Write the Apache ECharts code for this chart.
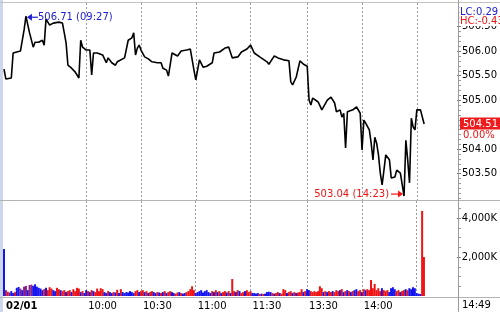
<!DOCTYPE html>
<html><head><meta charset="utf-8">
<script src="https://cdn.jsdelivr.net/npm/echarts@6/dist/echarts.min.js"></script>
<style>html,body{margin:0;padding:0;background:#fff}#c{width:500px;height:312px}</style>
</head><body><div id="c"></div>
<script>
// ---- data ----
const priceTimes = [
 '09:15','09:16','09:17','09:19','09:20','09:21','09:24','09:25','09:26','09:27',
 '09:28','09:29','09:30','09:31','09:32','09:34','09:36','09:37','09:38','09:39',
 '09:40','09:42','09:43','09:45','09:47','09:48','09:49','09:50','09:52','09:54',
 '09:55','09:56','09:57','09:58','09:59','10:00','10:02','10:03','10:04','10:06',
 '10:07','10:09','10:11','10:12','10:14','10:16','10:17','10:18','10:21','10:23',
 '10:25','10:26','10:27','10:28','10:29','10:30','10:32','10:34','10:36','10:37',
 '10:39','10:41','10:42','10:44','10:45','10:47','10:48','10:50','10:52','10:55',
 '10:57','10:58','10:59','11:00','11:01','11:02','11:03','11:04','11:06','11:09',
 '11:10','11:13','11:16','11:18','11:20','11:23','11:25','11:28','11:29','11:30',
 '13:01','13:04','13:05','13:08','13:09','13:12','13:14','13:17','13:20','13:21',
 '13:22','13:24','13:26','13:27','13:28','13:30','13:31','13:32','13:33','13:36',
 '13:38','13:41','13:43','13:45','13:46','13:48','13:49','13:50','13:51','13:52',
 '13:55','13:57','13:59','14:00','14:01','14:02','14:04','14:05','14:06','14:07',
 '14:08','14:09','14:10','14:11','14:12','14:13','14:15','14:16','14:18','14:19',
 '14:21','14:23','14:24','14:25','14:26','14:27','14:28','14:29','14:30','14:31',
 '14:32','14:34'
];
const priceValues = [
 505.63,505.43,505.43,505.45,505.96,505.98,506.00,506.02,506.43,506.71,
 506.67,506.37,506.33,506.08,506.18,506.18,506.22,506.12,506.65,506.63,
 506.53,506.57,506.53,506.59,506.57,506.37,506.16,505.71,505.65,505.57,
 505.51,505.45,506.22,506.08,506.06,506.02,506.02,505.51,505.96,505.96,
 505.96,505.92,505.76,505.86,505.76,505.71,505.78,505.78,505.86,506.22,
 506.27,506.37,505.92,506.06,506.12,506.02,505.88,505.84,505.78,505.78,
 505.76,505.76,505.65,505.61,505.49,505.96,505.96,505.90,506.00,506.02,
 506.04,506.02,505.61,505.41,505.37,505.82,505.82,505.67,505.69,505.76,
 505.96,505.98,506.06,506.08,505.86,505.88,505.98,506.04,506.08,506.12,
 505.96,505.88,505.86,505.78,505.73,505.90,505.86,505.82,505.80,505.37,
 505.31,505.47,505.80,505.76,505.73,505.69,505.00,504.90,505.04,504.96,
 504.80,505.00,505.06,504.94,504.76,504.80,504.65,504.73,504.02,504.76,
 504.80,504.86,504.73,503.98,504.59,504.53,504.39,504.12,503.78,504.24,
 504.12,503.88,503.51,503.27,503.57,503.88,503.78,503.41,503.43,503.57,
 503.51,503.04,504.18,503.78,503.31,504.63,504.45,504.39,504.80,504.82,
 504.80,504.51
];
// volume per minute from 09:15 (thousands of shares)
const volumeK = [
 2410,300,220,180,250,150,200,420,460,380,
 300,480,520,300,560,580,520,600,480,420,
 380,300,350,420,300,450,380,300,250,420,
 350,300,250,300,200,250,300,200,350,250,
 420,380,200,250,150,300,250,200,300,250,
 200,380,250,400,350,200,150,250,200,150,
 200,180,320,150,350,200,150,200,180,250,
 200,150,250,300,200,250,300,200,250,150,
 200,250,200,150,200,180,150,200,250,150,
 200,250,200,150,120,180,200,150,120,150,
 200,250,350,500,300,150,200,250,300,180,
 250,300,200,150,250,200,300,200,250,150,
 200,250,180,250,150,870,250,200,300,250,
 150,200,250,300,200,250,150,150,120,150,
 100,120,100,120,200,220,200,150,120,150,
 200,150,120,350,300,150,200,250,150,200,
 150,180,200,350,200,250,350,300,250,200,
 250,200,250,500,400,200,250,200,250,200,
 250,200,300,250,300,350,200,250,300,250,
 200,250,300,350,250,300,200,350,300,350,
 300,820,400,620,300,400,250,400,300,250,
 300,200,400,450,350,250,300,200,250,300,
 350,300,400,350,450,400,150,120,100,4360,2000
];
// u = up tick, d = down tick, n = unchanged
const volumeSide = [
 'u','n','d','n','u','u','d','u','u','n',
 'u','n','n','u','n','n','u','u','u','u',
 'u','u','d','u','d','d','d','u','u','d',
 'd','u','d','d','u','d','d','u','d','d',
 'd','d','u','d','u','u','d','u','d','u',
 'd','d','d','d','d','u','u','d','u','u',
 'd','u','d','u','d','u','u','u','u','u',
 'u','u','d','d','u','d','d','u','d','u',
 'd','d','u','u','d','u','d','u','d','u',
 'd','d','u','u','d','d','u','d','u','u',
 'd','d','d','d','d','u','u','u','u','u',
 'u','u','u','u','d','u','d','u','d','u',
 'd','d','u','d','u','d','d','u','d','u',
 'd','d','u','d','d','d','u','u','u','u',
 'd','u','d','u','u','u','u','d','u','d',
 'd','u','d','d','d','u','d','d','u','d',
 'u','d','d','d','u','d','u','u','d','d',
 'd','d','d','d','d','u','d','u','d','d',
 'u','d','d','d','u','d','u','d','u','d',
 'u','d','u','u','d','d','u','d','u','d',
 'd','d','d','d','d','d','d','u','d','d',
 'd','u','u','u','u','d','d','u','d','d',
 'u','d','u','u','u','u','u','u','u','d','d'
];
const priceTicks = [503.5, 504.0, 505.0, 505.5, 506.0, 506.5];
const volumeTicks = [2000, 4000];
const xLabelTimes = ['09:15','10:00','10:30','11:00','11:30','13:30','14:00'];
const gridTimes = ['10:00','10:30','11:00','11:30','13:30','14:00','14:30'];
const dateLabel = '02/01';
const lastPrice = 504.51, changeText = '0.00%', lcText = 'LC:0.29', hcText = 'HC:-0.43', nowTime = '14:49';

// ---- session minutes (lunch break removed) ----
const cats = [];
function pad(n){ return (n < 10 ? '0' : '') + n; }
function addRange(a, b){ for (let t = a; t <= b; t++) cats.push(pad(Math.floor(t/60)) + ':' + pad(t%60)); }
addRange(9*60+15, 11*60+30);
addRange(13*60, 14*60+52);

const FONT = 'DejaVu Sans';
const BLUE = '#1414f0', RED = '#f01414', PURPLE = '#8a1e8a';
const sideColor = { u: BLUE, d: RED, n: PURPLE };

const linePts = priceTimes.map((t, i) => [cats.indexOf(t), priceValues[i]]);
const volData = volumeK.map((v, i) => ({ value: [i, v], itemStyle: { color: sideColor[volumeSide[i]] } }));

const splitStyle = { show: true, interval: (i, v) => gridTimes.indexOf(v) >= 0, lineStyle: { color: '#9a9a9a', type: [2, 2], width: 1 } };
const fmtK = v => String(v).replace(/\B(?=(\d{3})+(?!\d))/g, ',') + 'K';

const option = {
  animation: false,
  grid: [
    { left: 4, top: 3, width: 454, height: 197 },
    { left: 4, top: 201, width: 454, height: 95 }
  ],
  xAxis: [
    { type: 'category', gridIndex: 0, data: cats, boundaryGap: false,
      axisLine: { show: false }, axisTick: { show: false }, axisLabel: { show: false }, splitLine: splitStyle },
    { type: 'category', gridIndex: 1, data: cats, boundaryGap: false,
      axisLine: { show: false }, axisTick: { show: false }, splitLine: splitStyle,
      axisLabel: { show: true, interval: (i, v) => xLabelTimes.indexOf(v) >= 0,
        formatter: v => v === '09:15' ? '{b|' + dateLabel + '}' : v,
        align: 'left', margin: 5, padding: [0, 0, 0, 2], fontSize: 10, fontFamily: FONT, color: '#000',
        rich: { b: { fontWeight: 'bold', fontSize: 10, fontFamily: FONT, color: '#000' } } } }
  ],
  yAxis: [
    { type: 'value', gridIndex: 0, position: 'right', min: 502.96, max: 506.98, scale: true,
      axisLine: { show: false }, splitLine: { show: false },
      axisTick: { show: true, customValues: priceTicks, length: 4, lineStyle: { color: '#777' } },
      axisLabel: { show: true, customValues: priceTicks, formatter: v => v.toFixed(2), margin: 5,
        fontSize: 10, fontFamily: FONT, color: '#000' } },
    { type: 'value', gridIndex: 1, position: 'right', min: 0, max: 4870,
      axisLine: { show: false }, splitLine: { show: false },
      axisTick: { show: true, customValues: volumeTicks, length: 4, lineStyle: { color: '#777' } },
      axisLabel: { show: true, customValues: volumeTicks, formatter: fmtK, margin: 5,
        fontSize: 10, fontFamily: FONT, color: '#000' } }
  ],
  series: [
    { type: 'line', xAxisIndex: 0, yAxisIndex: 0, data: linePts, showSymbol: false, symbol: 'none',
      lineStyle: { color: '#000', width: 1.6 }, z: 5 },
    { type: 'bar', xAxisIndex: 1, yAxisIndex: 1, data: volData, barWidth: 2, z: 5 }
  ]
};

const chart = echarts.init(document.getElementById('c'), null, { renderer: 'canvas' });
chart.setOption(option);

// ---- decorations positioned through the axes ----
const P0 = (i, v) => chart.convertToPixel({ xAxisIndex: 0, yAxisIndex: 0 }, [i, v]);
const Y0 = v => chart.convertToPixel({ yAxisIndex: 0 }, v);
const Y1 = v => chart.convertToPixel({ yAxisIndex: 1 }, v);
const font = (s, w) => (w || 'normal') + ' ' + s + 'px "' + FONT + '"';
const g = [];
const line = (x1, y1, x2, y2, c, w) => g.push({ type: 'line', silent: true, z: 50,
  shape: { x1, y1, x2, y2 }, style: { stroke: c, lineWidth: w || 1 } });
const text = (t, x, y, c, align) => g.push({ type: 'text', silent: true, z: 60,
  style: { text: t, x, y, fill: c, font: font(10), textAlign: align || 'left', textVerticalAlign: 'middle', align: align || 'left', verticalAlign: 'middle' } });

// frame
g.push({ type: 'rect', silent: true, z: 40, shape: { x: 0, y: 0, width: 3, height: 312 }, style: { fill: '#ccd7ec' } });
line(0, 2.5, 500, 2.5, '#c2c2c2');
line(0, 200.5, 500, 200.5, '#b4b4b4');
line(0, 297.5, 500, 297.5, '#b4b4b4');
line(458.5, 0, 458.5, 312, '#9c9c9c');

// minor ticks
for (let k = 5030; k <= 5069; k += 1) {
  const v = k / 10;
  if (priceTicks.some(t => Math.abs(t - v) < 1e-6)) continue;
  const y = Math.round(Y0(v)) + 0.5;
  line(458, y, 461, y, '#999');
}
for (let v = 500; v < 4870; v += 500) {
  if (volumeTicks.indexOf(v) >= 0) continue;
  const y = Math.round(Y1(v)) + 0.5;
  line(458, y, 461, y, '#999');
}

// LC / HC
g.push({ type: 'rect', silent: true, z: 55, shape: { x: 459.5, y: 6, width: 40.5, height: 20 }, style: { fill: '#fff' } });
text(lcText, 460, 12, '#2020d0');
text(hcText, 460, 21, RED);

// current price label
const yl = Y0(lastPrice);
g.push({ type: 'rect', silent: true, z: 55, shape: { x: 460, y: yl - 6.5, width: 40, height: 12 }, style: { fill: '#ee1c1c' } });
text(lastPrice.toFixed(2), 463, yl, '#fff');
text(changeText, 463, yl + 11, RED);

// high marker
let iH = 0, iL = 0;
priceValues.forEach((v, i) => { if (v > priceValues[iH]) iH = i; if (v < priceValues[iL]) iL = i; });
const ph = P0(cats.indexOf(priceTimes[iH]), priceValues[iH]);
const hy = ph[1] + 1;
g.push({ type: 'polygon', silent: true, z: 60, shape: { points: [[ph[0] + 1, hy], [ph[0] + 6, hy - 3.5], [ph[0] + 6, hy + 3.5]] }, style: { fill: '#2020d0' } });
line(ph[0] + 5, hy, ph[0] + 12, hy, '#2020d0', 1.2);
text(priceValues[iH].toFixed(2) + ' (' + priceTimes[iH] + ')', ph[0] + 12, hy, '#2020d0');

// low marker
const pl = P0(cats.indexOf(priceTimes[iL]), priceValues[iL]);
const ly = pl[1] - 2;
line(pl[0] - 13, ly, pl[0] - 5, ly, RED, 1.2);
g.push({ type: 'polygon', silent: true, z: 60, shape: { points: [[pl[0] - 1, ly], [pl[0] - 6, ly - 3.5], [pl[0] - 6, ly + 3.5]] }, style: { fill: RED } });
text(priceValues[iL].toFixed(2) + ' (' + priceTimes[iL] + ')', pl[0] - 15, ly, RED, 'right');

// current time
text(nowTime, 462, 305, '#000');

chart.setOption({ graphic: g });
</script>
</body></html>
